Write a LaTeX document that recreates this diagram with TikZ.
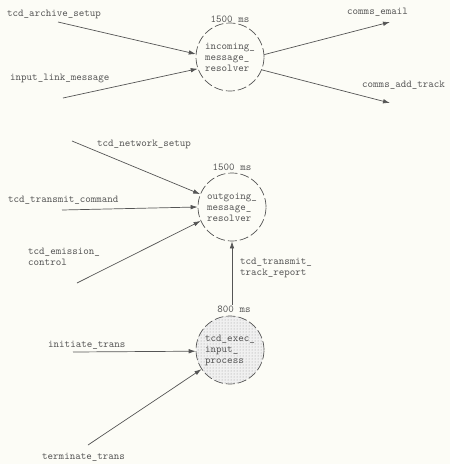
\documentclass[tikz,border=0pt]{standalone}
\usetikzlibrary{arrows.meta,patterns}
\definecolor{paper}{RGB}{252,252,246}
\definecolor{ink}{RGB}{85,85,85}
\tikzset{
	proc/.style={circle,draw=ink,line width=0.7pt,dash pattern=on 9pt off 3pt,
		minimum size=68pt,inner sep=0pt,align=left,text=ink,
		font=\ttfamily\fontsize{10.5}{11}\selectfont},
	flow/.style={draw=ink,line width=0.7pt,-{Latex[length=7pt,width=4.5pt]}},
	lbl/.style={font=\ttfamily\fontsize{10.5}{11}\selectfont,text=ink,inner sep=0pt,anchor=west},
}
\begin{document}
\begin{tikzpicture}[x=1pt,y=-1pt]
	\fill[paper] (0,0) rectangle (450,464);
	\useasboundingbox (0,0) rectangle (450,464);

	% incoming resolver
	\node[proc] (inres) at (230,57) {incoming\_\\message\_\\resolver};
	\node[lbl,anchor=center] (inms) at (230,19) {1500 ms};
	\node[lbl] (archive) at (7,14) {tcd\_archive\_setup};
	\node[lbl] (link) at (10,78) {input\_link\_message};
	\node[lbl] (email) at (347,12) {comms\_email};
	\node[lbl] (addtrk) at (362,85) {comms\_add\_track};
	\coordinate (archive0) at (58,22);
	\coordinate (link0) at (63,98);
	\coordinate (email1) at (390,22);
	\coordinate (addtrk1) at (390,103);
	\draw[flow] (archive0) -- (inres.175);
	\draw[flow] (link0) -- (inres.200);
	\draw[flow] (inres.4) -- (email1);
	\draw[flow] (inres.-22) -- (addtrk1);

	% outgoing resolver
	\node[proc] (outres) at (232,207) {outgoing\_\\message\_\\resolver};
	\node[lbl,anchor=center] (outms) at (232,167) {1500 ms};
	\node[lbl] (network) at (97,144) {tcd\_network\_setup};
	\node[lbl] (command) at (8,200) {tcd\_transmit\_command};
	\node[lbl,anchor=north west,align=left] (emission) at (28,248) {tcd\_emission\_\\control};
	\coordinate (network0) at (72,141);
	\coordinate (command0) at (62,210);
	\coordinate (emission0) at (77,283);
	\draw[flow] (network0) -- (outres.158);
	\draw[flow] (command0) -- (outres.180);
	\draw[flow] (emission0) -- (outres.204);

	% trans input process
	\node[proc,fill=gray!12,postaction={pattern=dots,pattern color=gray!80}] (trans) at (230,350)
		{tcd\_exec\_\\input\_\\process};
	\node[lbl,anchor=center] (transms) at (234,309) {800 ms};
	\node[lbl,anchor=north west,align=left] (report) at (240,258) {tcd\_transmit\_\\track\_report};
	\node[lbl] (initiate) at (48,345) {initiate\_trans};
	\node[lbl] (terminate) at (42,457) {terminate\_trans};
	\coordinate (initiate0) at (73,352);
	\coordinate (terminate0) at (88,445);
	\draw[flow] (transms.north -| outres.south) -- (outres.south);
	\draw[flow] (initiate0) -- (trans.182);
	\draw[flow] (terminate0) -- (trans.214);
\end{tikzpicture}
\end{document}
